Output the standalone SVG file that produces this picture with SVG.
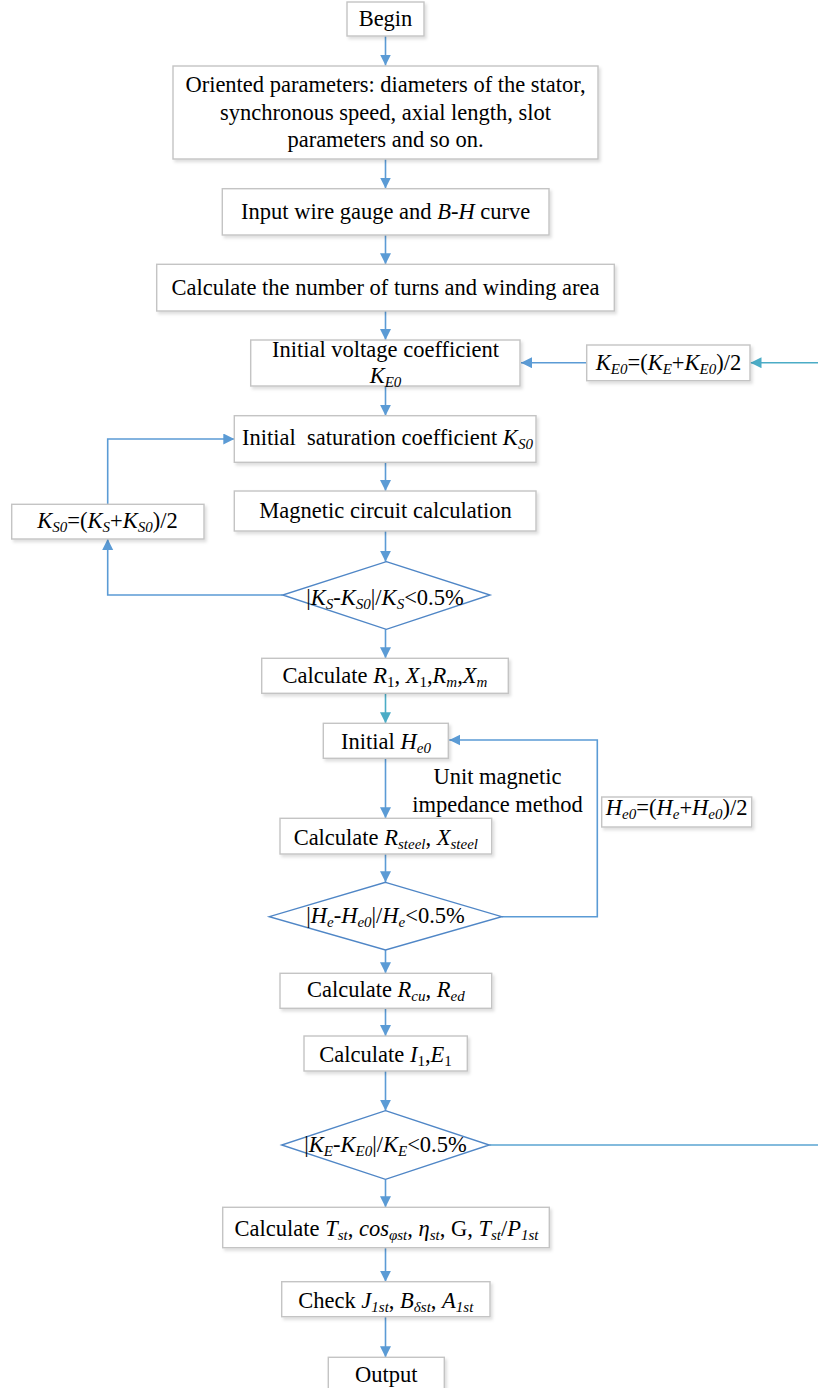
<svg xmlns="http://www.w3.org/2000/svg" width="818" height="1388" viewBox="0 0 818 1388">
<defs>
<filter id="sh" x="-10%" y="-10%" width="130%" height="140%">
<feDropShadow dx="2" dy="2.5" stdDeviation="1.5" flood-color="#000" flood-opacity="0.13"/>
</filter>
<marker id="ar" markerUnits="userSpaceOnUse" markerWidth="12" markerHeight="12" refX="11" refY="5.5" orient="auto">
<path d="M0,0 L11,5.5 L0,11 z" fill="#5B9BD5"/>
</marker>
<marker id="art" markerUnits="userSpaceOnUse" markerWidth="12" markerHeight="12" refX="11" refY="5.5" orient="auto">
<path d="M0,0 L11,5.5 L0,11 z" fill="#4BACC6"/>
</marker>
</defs>
<style>
.box{fill:#fff;stroke:#C4C4C4;stroke-width:1.4;filter:url(#sh)}
.dia{fill:#fff;stroke:#4F86C6;stroke-width:1.4}
text{font-family:"Liberation Serif","Times New Roman",serif;font-size:22.5px;fill:#000;text-anchor:middle}
.i{font-style:italic}
.s{font-size:15px}
.c{fill:none;stroke:#5B9BD5;stroke-width:1.6}
.t{fill:none;stroke:#4BACC6;stroke-width:1.6}
</style>

<g id="connectors">
<path class="c" d="M385.5,36 V65.5" marker-end="url(#ar)"/>
<path class="c" d="M385.5,159.3 V188.5" marker-end="url(#ar)"/>
<path class="c" d="M385.5,235 V264.3" marker-end="url(#ar)"/>
<path class="c" d="M385.5,311 V340" marker-end="url(#ar)"/>
<path class="c" d="M385.5,386 V415.7" marker-end="url(#ar)"/>
<path class="c" d="M385.5,462.3 V491" marker-end="url(#ar)"/>
<path class="c" d="M385.5,531 V561.7" marker-end="url(#ar)"/>
<path class="c" d="M385.5,629.3 V658.3" marker-end="url(#ar)"/>
<path class="t" d="M385.5,693.3 V723.3" marker-end="url(#art)"/>
<path class="c" d="M385.5,758.3 V818.3" marker-end="url(#ar)"/>
<path class="c" d="M385.5,854 V882.3" marker-end="url(#ar)"/>
<path class="c" d="M385.5,950 V973.3" marker-end="url(#ar)"/>
<path class="c" d="M385.5,1008.3 V1036" marker-end="url(#ar)"/>
<path class="c" d="M385.5,1071 V1110.7" marker-end="url(#ar)"/>
<path class="c" d="M385.5,1179.3 V1207.3" marker-end="url(#ar)"/>
<path class="c" d="M385.5,1247.7 V1281.7" marker-end="url(#ar)"/>
<path class="c" d="M385.5,1316.7 V1357.3" marker-end="url(#ar)"/>
<path class="c" d="M282.7,595 H107.7 V539" marker-end="url(#ar)"/>
<path class="c" d="M107.7,504.3 V439 H234.3" marker-end="url(#ar)"/>
<path class="c" d="M501.7,916.7 H597.3 V740 H449.3" marker-end="url(#ar)"/>
<path class="c" d="M586.7,362.7 H521" marker-end="url(#ar)"/>
<path class="t" d="M818,362.7 H750.5" marker-end="url(#art)"/>
<path class="t" d="M489.3,1145 H818" style="stroke:#5AA5D2"/>
</g>

<g id="begin"><rect class="box" x="347" y="2" width="77" height="34"/><text x="385.5" y="26">Begin</text></g>

<g id="oriented"><rect class="box" x="173" y="66" width="425" height="93"/>
<text x="385.5" y="92">Oriented parameters: diameters of the stator,</text>
<text x="385.5" y="119.5">synchronous speed, axial length, slot</text>
<text x="385.5" y="147">parameters and so on.</text></g>

<g id="input"><rect class="box" x="222.3" y="188.7" width="326.7" height="46.3"/>
<text x="385.7" y="218.5">Input wire gauge and <tspan class="i">B-H</tspan> curve</text></g>

<g id="turns"><rect class="box" x="156.7" y="264.3" width="457.6" height="46.7"/>
<text x="385.5" y="295">Calculate the number of turns and winding area</text></g>

<g id="voltage"><rect class="box" x="250.7" y="340" width="269.3" height="46"/>
<text x="385.5" y="357">Initial voltage coefficient</text>
<text x="385.5" y="383"><tspan class="i">K</tspan><tspan class="i s" dy="4">E0</tspan></text></g>

<g id="ke0update"><rect class="box" x="586.7" y="345" width="163.3" height="35.7"/>
<text x="668.5" y="370"><tspan class="i">K</tspan><tspan class="i s" dy="4">E0</tspan><tspan dy="-4">=(</tspan><tspan class="i">K</tspan><tspan class="i s" dy="4">E</tspan><tspan dy="-4">+</tspan><tspan class="i">K</tspan><tspan class="i s" dy="4">E0</tspan><tspan dy="-4">)/2</tspan></text></g>

<g id="saturation"><rect class="box" x="234.3" y="415.7" width="301.7" height="46.6"/>
<text x="387.5" y="445" xml:space="preserve">Initial  saturation coefficient <tspan class="i">K</tspan><tspan class="i s" dy="4">S0</tspan></text></g>

<g id="magnetic"><rect class="box" x="234.3" y="491" width="301.7" height="40"/>
<text x="385.5" y="518.3">Magnetic circuit calculation</text></g>

<g id="ks0update"><rect class="box" x="11.7" y="504.3" width="192.3" height="34.7"/>
<text x="107.5" y="528.3"><tspan class="i">K</tspan><tspan class="i s" dy="4">S0</tspan><tspan dy="-4">=(</tspan><tspan class="i">K</tspan><tspan class="i s" dy="4">S</tspan><tspan dy="-4">+</tspan><tspan class="i">K</tspan><tspan class="i s" dy="4">S0</tspan><tspan dy="-4">)/2</tspan></text></g>

<g id="decision-ks"><path class="dia" d="M386.3,561.7 L490,595 L386.3,629.3 L282.7,595 Z"/>
<text x="385" y="605">|<tspan class="i">K</tspan><tspan class="i s" dy="4">S</tspan><tspan dy="-4">-</tspan><tspan class="i">K</tspan><tspan class="i s" dy="4">S0</tspan><tspan dy="-4">|/</tspan><tspan class="i">K</tspan><tspan class="i s" dy="4">S</tspan><tspan dy="-4">&lt;0.5%</tspan></text></g>

<g id="calc-r1"><rect class="box" x="261.7" y="658.3" width="246.6" height="35"/>
<text x="385" y="683.3">Calculate <tspan class="i">R</tspan><tspan class="s" dy="4">1</tspan><tspan dy="-4">, </tspan><tspan class="i">X</tspan><tspan class="s" dy="4">1</tspan><tspan dy="-4">,</tspan><tspan class="i">R</tspan><tspan class="i s" dy="4">m</tspan><tspan dy="-4">,</tspan><tspan class="i">X</tspan><tspan class="i s" dy="4">m</tspan></text></g>

<g id="initial-he0"><rect class="box" x="323.3" y="723.3" width="125" height="35"/>
<text x="386" y="749.3">Initial <tspan class="i">H</tspan><tspan class="i s" dy="4">e0</tspan></text></g>

<g id="method-label">
<text x="497.5" y="783.5">Unit magnetic</text>
<text x="497.5" y="811.5">impedance method</text></g>

<g id="he0update"><rect class="box" x="601.7" y="797" width="150" height="30"/>
<text x="676.7" y="815"><tspan class="i">H</tspan><tspan class="i s" dy="4">e0</tspan><tspan dy="-4">=(</tspan><tspan class="i">H</tspan><tspan class="i s" dy="4">e</tspan><tspan dy="-4">+</tspan><tspan class="i">H</tspan><tspan class="i s" dy="4">e0</tspan><tspan dy="-4">)/2</tspan></text></g>

<g id="calc-rsteel"><rect class="box" x="280" y="818.3" width="211.7" height="35.7"/>
<text x="385.8" y="845">Calculate <tspan class="i">R</tspan><tspan class="i s" dy="4">steel</tspan><tspan dy="-4">, </tspan><tspan class="i">X</tspan><tspan class="i s" dy="4">steel</tspan></text></g>

<g id="decision-he"><path class="dia" d="M385.5,882.3 L501.7,916.7 L385.5,950 L269.3,916.7 Z"/>
<text x="385.5" y="923.3">|<tspan class="i">H</tspan><tspan class="i s" dy="4">e</tspan><tspan dy="-4">-</tspan><tspan class="i">H</tspan><tspan class="i s" dy="4">e0</tspan><tspan dy="-4">|/</tspan><tspan class="i">H</tspan><tspan class="i s" dy="4">e</tspan><tspan dy="-4">&lt;0.5%</tspan></text></g>

<g id="calc-rcu"><rect class="box" x="280" y="973.3" width="211.7" height="35"/>
<text x="385.8" y="997">Calculate <tspan class="i">R</tspan><tspan class="i s" dy="4">cu</tspan><tspan dy="-4">, </tspan><tspan class="i">R</tspan><tspan class="i s" dy="4">ed</tspan></text></g>

<g id="calc-i1"><rect class="box" x="304" y="1036" width="163.3" height="35"/>
<text x="385.6" y="1062">Calculate <tspan class="i">I</tspan><tspan class="s" dy="4">1</tspan><tspan dy="-4">,</tspan><tspan class="i">E</tspan><tspan class="s" dy="4">1</tspan></text></g>

<g id="decision-ke"><path class="dia" d="M385.5,1110.7 L489.3,1145 L385.5,1179.3 L281.7,1145 Z"/>
<text x="385.5" y="1152">|<tspan class="i">K</tspan><tspan class="i s" dy="4">E</tspan><tspan dy="-4">-</tspan><tspan class="i">K</tspan><tspan class="i s" dy="4">E0</tspan><tspan dy="-4">|/</tspan><tspan class="i">K</tspan><tspan class="i s" dy="4">E</tspan><tspan dy="-4">&lt;0.5%</tspan></text></g>

<g id="calc-t"><rect class="box" x="222.7" y="1207.3" width="326.6" height="40.4"/>
<text x="386.5" y="1236">Calculate <tspan class="i">T</tspan><tspan class="i s" dy="4">st</tspan><tspan dy="-4">, </tspan><tspan class="i">cos</tspan><tspan class="i s" dy="4">φst</tspan><tspan dy="-4">, </tspan><tspan class="i">η</tspan><tspan class="i s" dy="4">st</tspan><tspan dy="-4">, G, </tspan><tspan class="i">T</tspan><tspan class="i s" dy="4">st</tspan><tspan dy="-4">/</tspan><tspan class="i">P</tspan><tspan class="i s" dy="4">1st</tspan></text></g>

<g id="check"><rect class="box" x="281.7" y="1281.7" width="208.3" height="35"/>
<text x="385.8" y="1308.3">Check <tspan class="i">J</tspan><tspan class="i s" dy="4">1st</tspan><tspan dy="-4">, </tspan><tspan class="i">B</tspan><tspan class="i s" dy="4">δst</tspan><tspan dy="-4">, </tspan><tspan class="i">A</tspan><tspan class="i s" dy="4">1st</tspan></text></g>

<g id="output"><rect class="box" x="328.3" y="1357.3" width="116" height="40"/>
<text x="386.3" y="1382">Output</text></g>
</svg>
